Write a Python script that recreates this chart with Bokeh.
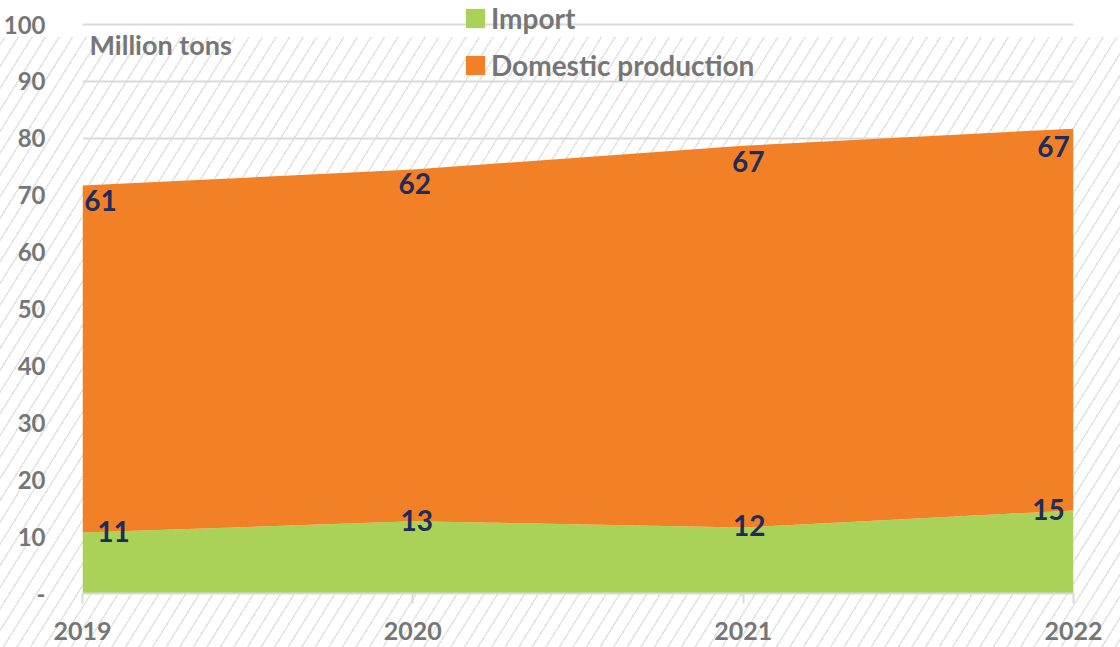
import numpy as np
from bokeh.plotting import figure
from bokeh.models import ColumnDataSource, Range1d, FixedTicker, Label
from bokeh.core.properties import value
from bokeh.embed import file_html
from bokeh.resources import INLINE

# ---------------- data ----------------
years = [2019, 2020, 2021, 2022]
imports = [10.7, 12.7, 11.6, 14.6]
domestic = [61.0, 61.8, 67.1, 67.1]
series_names = ["Import", "Domestic production"]
y_ticks = [0, 10, 20, 30, 40, 50, 60, 70, 80, 90, 100]
y_tick_labels = ["-", "10", "20", "30", "40", "50", "60", "70", "80", "90", "100"]
unit_label = "Million tons"

# ---------------- style ----------------
FONT = "Lato"
GRAY = "#767676"
NAVY = "#1F2D5C"
GREEN = "#AAD158"
ORANGE = "#F18027"
LIGHT = "#D9D9D9"
STRIPE = "#E3E3E3"
W, H = 1120, 647

p = figure(width=W, height=H, output_backend="svg", toolbar_location=None,
           x_range=Range1d(2019, 2022), y_range=Range1d(0, 104.22),
           min_border_left=80, min_border_right=47, min_border_top=0,
           min_border_bottom=54)
p.outline_line_color = None
p.background_fill_alpha = 0
p.border_fill_alpha = 0
# hatched page background (white strip on top), seen through the transparent canvas
p.styles = {
    "background": (
        "linear-gradient(#ffffff, #ffffff) 0 0 / 100% 37px no-repeat, "
        f"repeating-linear-gradient(122deg, {STRIPE} 0px, {STRIPE} 1.5px, "
        "#ffffff 1.5px, #ffffff 11.5px)"
    )
}

top_imp = np.array(imports)
top_dom = top_imp + np.array(domestic)
src = ColumnDataSource(dict(year=years, imp=imports, dom=domestic))

p.varea_stack(["imp", "dom"], x="year", color=[GREEN, ORANGE], source=src,
              legend_label=series_names)

# data labels
lab_text = [f"{v:.0f}" for v in imports] + [f"{v:.0f}" for v in domestic]
lab_src = ColumnDataSource(dict(
    x=years + years,
    y=list(top_imp) + list(top_dom),
    text=lab_text,
    xo=[31, 4, 6, -25, 18, 2, 5, -20],
    yo=[-1, -1, -2, -1, 15, 14, 16, 18],
))
p.text(x="x", y="y", text="text", x_offset="xo", y_offset="yo", source=lab_src,
       text_font=value(FONT), text_font_style="bold", text_font_size="28px",
       text_color=NAVY, text_align="center", text_baseline="middle")

# unit label
p.add_layout(Label(x=2019, y=96.5, x_offset=7, text=unit_label,
                   text_font=FONT, text_font_style="bold", text_font_size="27px",
                   text_color=GRAY, text_baseline="middle", text_align="left"))

# axes
p.xaxis.ticker = FixedTicker(ticks=years)
p.xaxis.major_label_overrides = {y: str(y) for y in years}
p.xaxis.axis_line_color = LIGHT
p.xaxis.axis_line_width = 2
p.xaxis.major_tick_line_color = LIGHT
p.xaxis.major_tick_line_width = 2
p.xaxis.major_tick_out = 10
p.xaxis.major_tick_in = 0
p.xaxis.minor_tick_line_color = None
p.xaxis.major_label_standoff = 18
p.xaxis.major_label_text_line_height = 0.5
p.xaxis.major_label_text_font = FONT
p.xaxis.major_label_text_font_style = "bold"
p.xaxis.major_label_text_font_size = "25px"
p.xaxis.major_label_text_color = GRAY

p.yaxis.ticker = FixedTicker(ticks=y_ticks)
p.yaxis.major_label_overrides = {t: l for t, l in zip(y_ticks, y_tick_labels)}
p.yaxis.axis_line_color = None
p.yaxis.major_tick_line_color = None
p.yaxis.minor_tick_line_color = None
p.yaxis.major_label_standoff = 31
p.yaxis.major_label_text_font = FONT
p.yaxis.major_label_text_font_style = "bold"
p.yaxis.major_label_text_font_size = "24px"
p.yaxis.major_label_text_color = GRAY

p.xgrid.grid_line_color = None
p.ygrid.ticker = FixedTicker(ticks=y_ticks)
p.ygrid.grid_line_color = LIGHT
p.ygrid.grid_line_width = 2

# legend
lg = p.legend[0]
lg.location = (381, 511)
lg.orientation = "vertical"
lg.label_text_font = FONT
lg.label_text_font_style = "bold"
lg.label_text_font_size = "28px"
lg.label_text_color = GRAY
lg.glyph_width = 24
lg.glyph_height = 24
lg.label_standoff = 4
lg.spacing = 13
lg.padding = 0
lg.margin = 0
lg.border_line_color = None
lg.background_fill_alpha = 0

open("out.html", "w").write(file_html(p, INLINE))
